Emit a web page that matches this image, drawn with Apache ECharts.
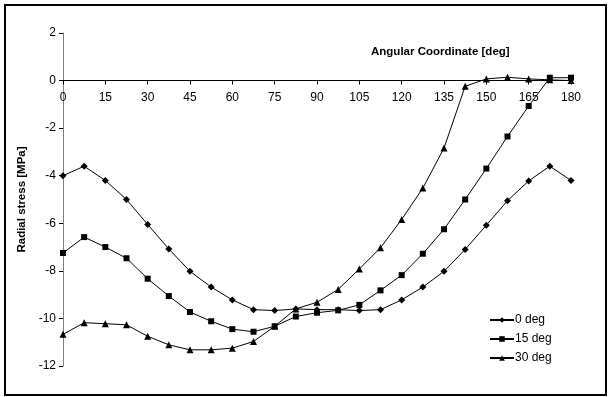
<!DOCTYPE html>
<html>
<head>
<meta charset="utf-8">
<script src="https://cdn.jsdelivr.net/npm/echarts@6/dist/echarts.min.js"></script>
<style>
  html, body { margin: 0; padding: 0; background: #fff; }
  #chart { width: 608px; height: 397px; }
</style>
</head>
<body>
<div id="chart"></div>
<script>
const angles = [0, 7.5, 15, 22.5, 30, 37.5, 45, 52.5, 60, 67.5, 75, 82.5, 90,
  97.5, 105, 112.5, 120, 127.5, 135, 142.5, 150, 157.5, 165, 172.5, 180]

const deg0 = [-4.0, -3.6, -4.2, -5.0, -6.05, -7.08, -8.02, -8.68, -9.22, -9.63, -9.67, -9.6,
  -9.63, -9.63, -9.67, -9.63, -9.22, -8.68, -8.02, -7.1, -6.08, -5.05, -4.22, -3.6, -4.2]
const deg15 = [-7.25, -6.58, -7.0, -7.47, -8.33, -9.06, -9.73, -10.12, -10.45, -10.56, -10.33, -9.92,
  -9.76, -9.66, -9.43, -8.82, -8.18, -7.28, -6.25, -5.0, -3.7, -2.35, -1.07, 0.12, 0.12]
const deg30 = [-10.67, -10.18, -10.22, -10.27, -10.75, -11.11, -11.32, -11.32, -11.25, -10.97, -10.33, -9.6,
  -9.32, -8.78, -7.92, -7.03, -5.84, -4.52, -2.84, -0.24, 0.07, 0.14, 0.07, 0.03, 0.0]

const seriesNames = ['0 deg', '15 deg', '30 deg']
const yTicks = [-12, -10, -8, -6, -4, -2, 0, 2]

const font = 'Liberation Sans, Arial, sans-serif'

function pairs(values) {
  return angles.map((a, i) => [a, values[i]])
}

const chart = echarts.init(document.getElementById('chart'), null, { renderer: 'canvas' })

const lineStyle = { color: '#000', width: 1 }
const markers = [
  { symbol: 'diamond', size: 7 },
  { symbol: 'rect', size: 6 },
  { symbol: 'triangle', size: 7 },
]

// grid height 333 px spans 14 units, so y = 0 sits 2 units (47.6 px) below the top
const gridTop = 33
const gridBottom = 31
const zeroOffset = (397 - gridTop - gridBottom) * (yTicks[yTicks.length - 1] / (yTicks[yTicks.length - 1] - yTicks[0]))

chart.setOption({
  animation: false,
  backgroundColor: '#fff',
  grid: { left: 63, right: 37, top: gridTop, bottom: gridBottom },
  legend: {
    data: seriesNames,
    orient: 'vertical',
    left: 484,
    top: 309,
    itemGap: 7,
    itemWidth: 24,
    itemHeight: 7,
    textStyle: { color: '#000', fontFamily: font, fontSize: 12, padding: [0, 0, 0, -4] },
  },
  graphic: [
    {
      type: 'rect',
      shape: { x: 5, y: 5, width: 601, height: 390 },
      style: { fill: 'none', stroke: '#000', lineWidth: 2 },
    },
    {
      type: 'text',
      left: 371,
      top: 46,
      style: {
        text: 'Angular Coordinate [deg]',
        fill: '#000',
        font: 'bold 11.5px ' + font,
      },
    },
  ],
  xAxis: {
    type: 'value',
    position: 'top',
    offset: -zeroOffset,
    min: 0,
    max: 180,
    interval: 15,
    axisLine: { onZero: false, lineStyle: { color: '#000', width: 1 } },
    axisTick: { show: true, inside: true, length: 4, lineStyle: { color: '#000' } },
    axisLabel: { inside: true, color: '#000', fontFamily: font, fontSize: 12, margin: 11, showMinLabel: true, showMaxLabel: true },
    splitLine: { show: false },
  },
  yAxis: {
    type: 'value',
    min: yTicks[0],
    max: yTicks[yTicks.length - 1],
    interval: 2,
    name: 'Radial stress [MPa]',
    nameLocation: 'middle',
    nameGap: 35,
    nameTextStyle: { color: '#000', fontFamily: font, fontSize: 11.5, fontWeight: 'bold' },
    axisLine: { show: true, onZero: false, lineStyle: { color: '#808080', width: 1 } },
    axisTick: { show: true, length: 4, lineStyle: { color: '#000' } },
    axisLabel: { color: '#000', fontFamily: font, fontSize: 12, margin: 7 },
    splitLine: { show: false },
  },
  series: [deg0, deg15, deg30].map((values, i) => ({
    name: seriesNames[i],
    type: 'line',
    data: pairs(values),
    symbol: markers[i].symbol,
    symbolSize: markers[i].size,
    showAllSymbol: true,
    lineStyle,
    itemStyle: { color: '#000' },
  })),
})
</script>
</body>
</html>
